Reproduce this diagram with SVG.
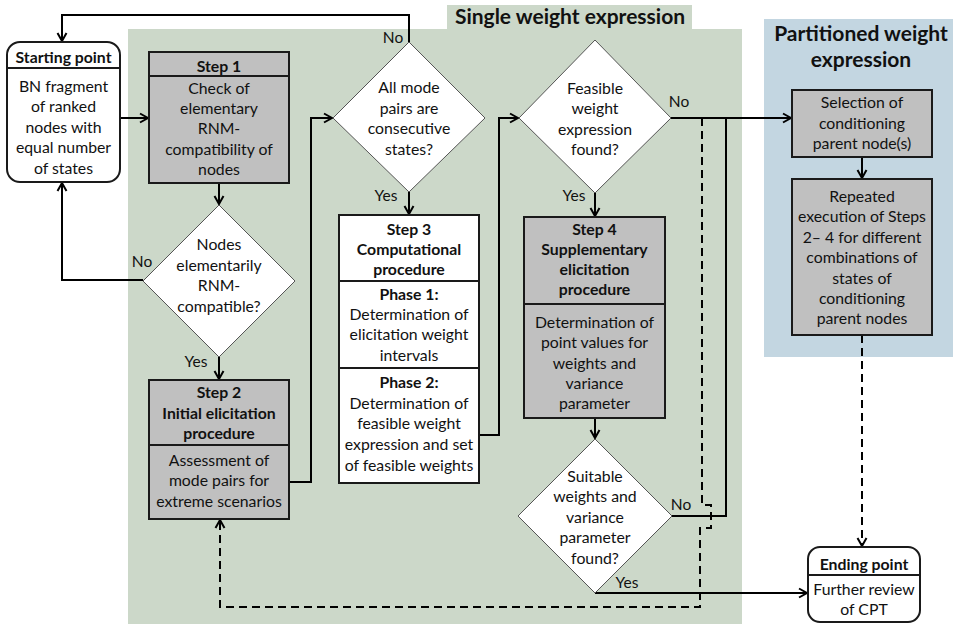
<svg xmlns="http://www.w3.org/2000/svg" width="953" height="624" viewBox="0 0 953 624">
<defs>
<marker id="arr" markerUnits="userSpaceOnUse" markerWidth="12" markerHeight="12" refX="10" refY="6" orient="auto">
<path d="M2,1.5 L10,6 L2,10.5" fill="none" stroke="#000" stroke-width="2"/>
</marker>
<style>
text{font-family:Lato,"Liberation Sans",Arial,sans-serif;font-size:15.8px;fill:#111;text-anchor:middle}
.b{font-weight:bold}
.h{font-weight:bold;font-size:21px}
.lbl{font-size:15.5px}
.box{stroke:#1a1a1a;stroke-width:2}
.g{fill:#c0c0c0}
.w{fill:#fff}
.dia{fill:#fff;stroke:#555;stroke-width:1}
.div{stroke:#1a1a1a;stroke-width:2}
.c{fill:none;stroke:#000;stroke-width:2}
.d{stroke-dasharray:8,5}
</style>
</defs>
<rect width="953" height="624" fill="#fff"/>
<g id="bg-single">
<path d="M128,29 H447 V5 H692 V29 H742 V624 H128 Z" fill="#ccd8c9"/>
<text class="h" x="570" y="24">Single weight expression</text>
</g>
<g id="bg-partitioned">
<rect x="764" y="19" width="189" height="338" fill="#c3d6e1"/>
<text class="h" x="861" y="41">Partitioned weight</text>
<text class="h" x="861" y="67">expression</text>
</g>
<g id="connectors">
<path class="c" d="M409,42 V15 H62 V41" marker-end="url(#arr)"/>
<path class="c" d="M120,118 H148" marker-end="url(#arr)"/>
<path class="c" d="M219,183 H219 V204" marker-end="url(#arr)"/>
<path class="c" d="M143,280 H62 V183" marker-end="url(#arr)"/>
<path class="c" d="M219,357 V379" marker-end="url(#arr)"/>
<path class="c" d="M289,482 H311 V118 H332" marker-end="url(#arr)"/>
<path class="c" d="M409,192 V214" marker-end="url(#arr)"/>
<path class="c" d="M479,435 H499 V118 H518" marker-end="url(#arr)"/>
<path class="c" d="M595,193 V216" marker-end="url(#arr)"/>
<path class="c" d="M595,418 V438" marker-end="url(#arr)"/>
<path class="c" d="M671,118 H791" marker-end="url(#arr)"/>
<path class="c" d="M672,516 H726 V118"/>
<path class="c" d="M595,593 H807" marker-end="url(#arr)"/>
<path class="c" d="M862,157 V178" marker-end="url(#arr)"/>
<path class="c d" d="M862,335 V546" marker-end="url(#arr)"/>
<path class="c d" d="M702,118 V505 H711 V528 H700 V607 H220 V520" marker-end="url(#arr)"/>
<text class="lbl" x="393" y="43">No</text>
<text class="lbl" x="386" y="201">Yes</text>
<text class="lbl" x="142" y="267">No</text>
<text class="lbl" x="196" y="367">Yes</text>
<text class="lbl" x="679" y="107">No</text>
<text class="lbl" x="574" y="201">Yes</text>
<text class="lbl" x="681" y="510">No</text>
<text class="lbl" x="627" y="588">Yes</text>
</g>
<g id="start">
<rect class="box w" x="7" y="42" width="113" height="140" rx="13"/>
<line class="div" x1="7" y1="68" x2="120" y2="68"/>
<text class="b" x="63.5" y="63">Starting point</text>
<text x="63.5" y="91.5">BN fragment</text>
<text x="63.5" y="112">of ranked</text>
<text x="63.5" y="132.5">nodes with</text>
<text x="63.5" y="153">equal number</text>
<text x="63.5" y="173.5">of states</text>
</g>
<g id="step1">
<rect class="box g" x="149" y="52" width="140" height="131"/>
<line class="div" x1="149" y1="76" x2="289" y2="76"/>
<text class="b" x="219" y="72">Step 1</text>
<text x="219" y="93.5">Check of</text>
<text x="219" y="114">elementary</text>
<text x="219" y="134">RNM-</text>
<text x="219" y="154.5">compatibility of</text>
<text x="219" y="175">nodes</text>
</g>
<g id="dec-compatible">
<polygon class="dia" points="219,205 295,281 219,357 143,281"/>
<text x="219" y="250">Nodes</text>
<text x="219" y="270.5">elementarily</text>
<text x="219" y="291">RNM-</text>
<text x="219" y="311.5">compatible?</text>
</g>
<g id="step2">
<rect class="box g" x="149" y="380" width="140" height="139"/>
<line class="div" x1="149" y1="445" x2="289" y2="445"/>
<text class="b" x="219" y="398">Step 2</text>
<text class="b" x="219" y="418.5">Initial elicitation</text>
<text class="b" x="219" y="438.5">procedure</text>
<text x="219" y="465.5">Assessment of</text>
<text x="219" y="486">mode pairs for</text>
<text x="219" y="506.5">extreme scenarios</text>
</g>
<g id="dec-consecutive">
<polygon class="dia" points="409,42 485,118 409,192 333,118"/>
<text x="409" y="93">All mode</text>
<text x="409" y="113.5">pairs are</text>
<text x="409" y="134">consecutive</text>
<text x="409" y="154.5">states?</text>
</g>
<g id="step3">
<rect class="box w" x="339" y="215" width="140" height="268"/>
<line class="div" x1="339" y1="281" x2="479" y2="281"/>
<line class="div" x1="339" y1="368" x2="479" y2="368"/>
<text class="b" x="409" y="235">Step 3</text>
<text class="b" x="409" y="255">Computational</text>
<text class="b" x="409" y="275">procedure</text>
<text class="b" x="409" y="299.5">Phase 1:</text>
<text x="409" y="320">Determination of</text>
<text x="409" y="340">elicitation weight</text>
<text x="409" y="360.5">intervals</text>
<text class="b" x="409" y="387.5">Phase 2:</text>
<text x="409" y="408.5">Determination of</text>
<text x="409" y="428.5">feasible weight</text>
<text x="409" y="450">expression and set</text>
<text x="409" y="470.5">of feasible weights</text>
</g>
<g id="dec-feasible">
<polygon class="dia" points="595,40 671,118 595,193 519,118"/>
<text x="595" y="93.5">Feasible</text>
<text x="595" y="114">weight</text>
<text x="595" y="134.5">expression</text>
<text x="595" y="155">found?</text>
</g>
<g id="step4">
<rect class="box g" x="524" y="217" width="141" height="201"/>
<line class="div" x1="524" y1="304" x2="665" y2="304"/>
<text class="b" x="594.5" y="235">Step 4</text>
<text class="b" x="594.5" y="255">Supplementary</text>
<text class="b" x="594.5" y="275">elicitation</text>
<text class="b" x="594.5" y="295">procedure</text>
<text x="594.5" y="327.5">Determination of</text>
<text x="594.5" y="348">point values for</text>
<text x="594.5" y="368.5">weights and</text>
<text x="594.5" y="388.5">variance</text>
<text x="594.5" y="408.5">parameter</text>
</g>
<g id="dec-suitable">
<polygon class="dia" points="595,439 672,516 595,593 518,516"/>
<text x="595" y="481.5">Suitable</text>
<text x="595" y="502">weights and</text>
<text x="595" y="522.5">variance</text>
<text x="595" y="543">parameter</text>
<text x="595" y="563.5">found?</text>
</g>
<g id="selection">
<rect class="box g" x="792" y="90" width="140" height="67"/>
<text x="862" y="108">Selection of</text>
<text x="862" y="128.5">conditioning</text>
<text x="862" y="149">parent node(s)</text>
</g>
<g id="repeated">
<rect class="box g" x="792" y="179" width="140" height="156"/>
<text x="862" y="201.5">Repeated</text>
<text x="862" y="222">execution of Steps</text>
<text x="862" y="242.5">2– 4 for different</text>
<text x="862" y="263">combinations of</text>
<text x="862" y="283.5">states of</text>
<text x="862" y="304">conditioning</text>
<text x="862" y="324">parent nodes</text>
</g>
<g id="end">
<rect class="box w" x="808" y="547" width="112" height="75" rx="12"/>
<line class="div" x1="808" y1="575" x2="920" y2="575"/>
<text class="b" x="864" y="570">Ending point</text>
<text x="864" y="595">Further review</text>
<text x="864" y="615">of CPT</text>
</g>
</svg>
